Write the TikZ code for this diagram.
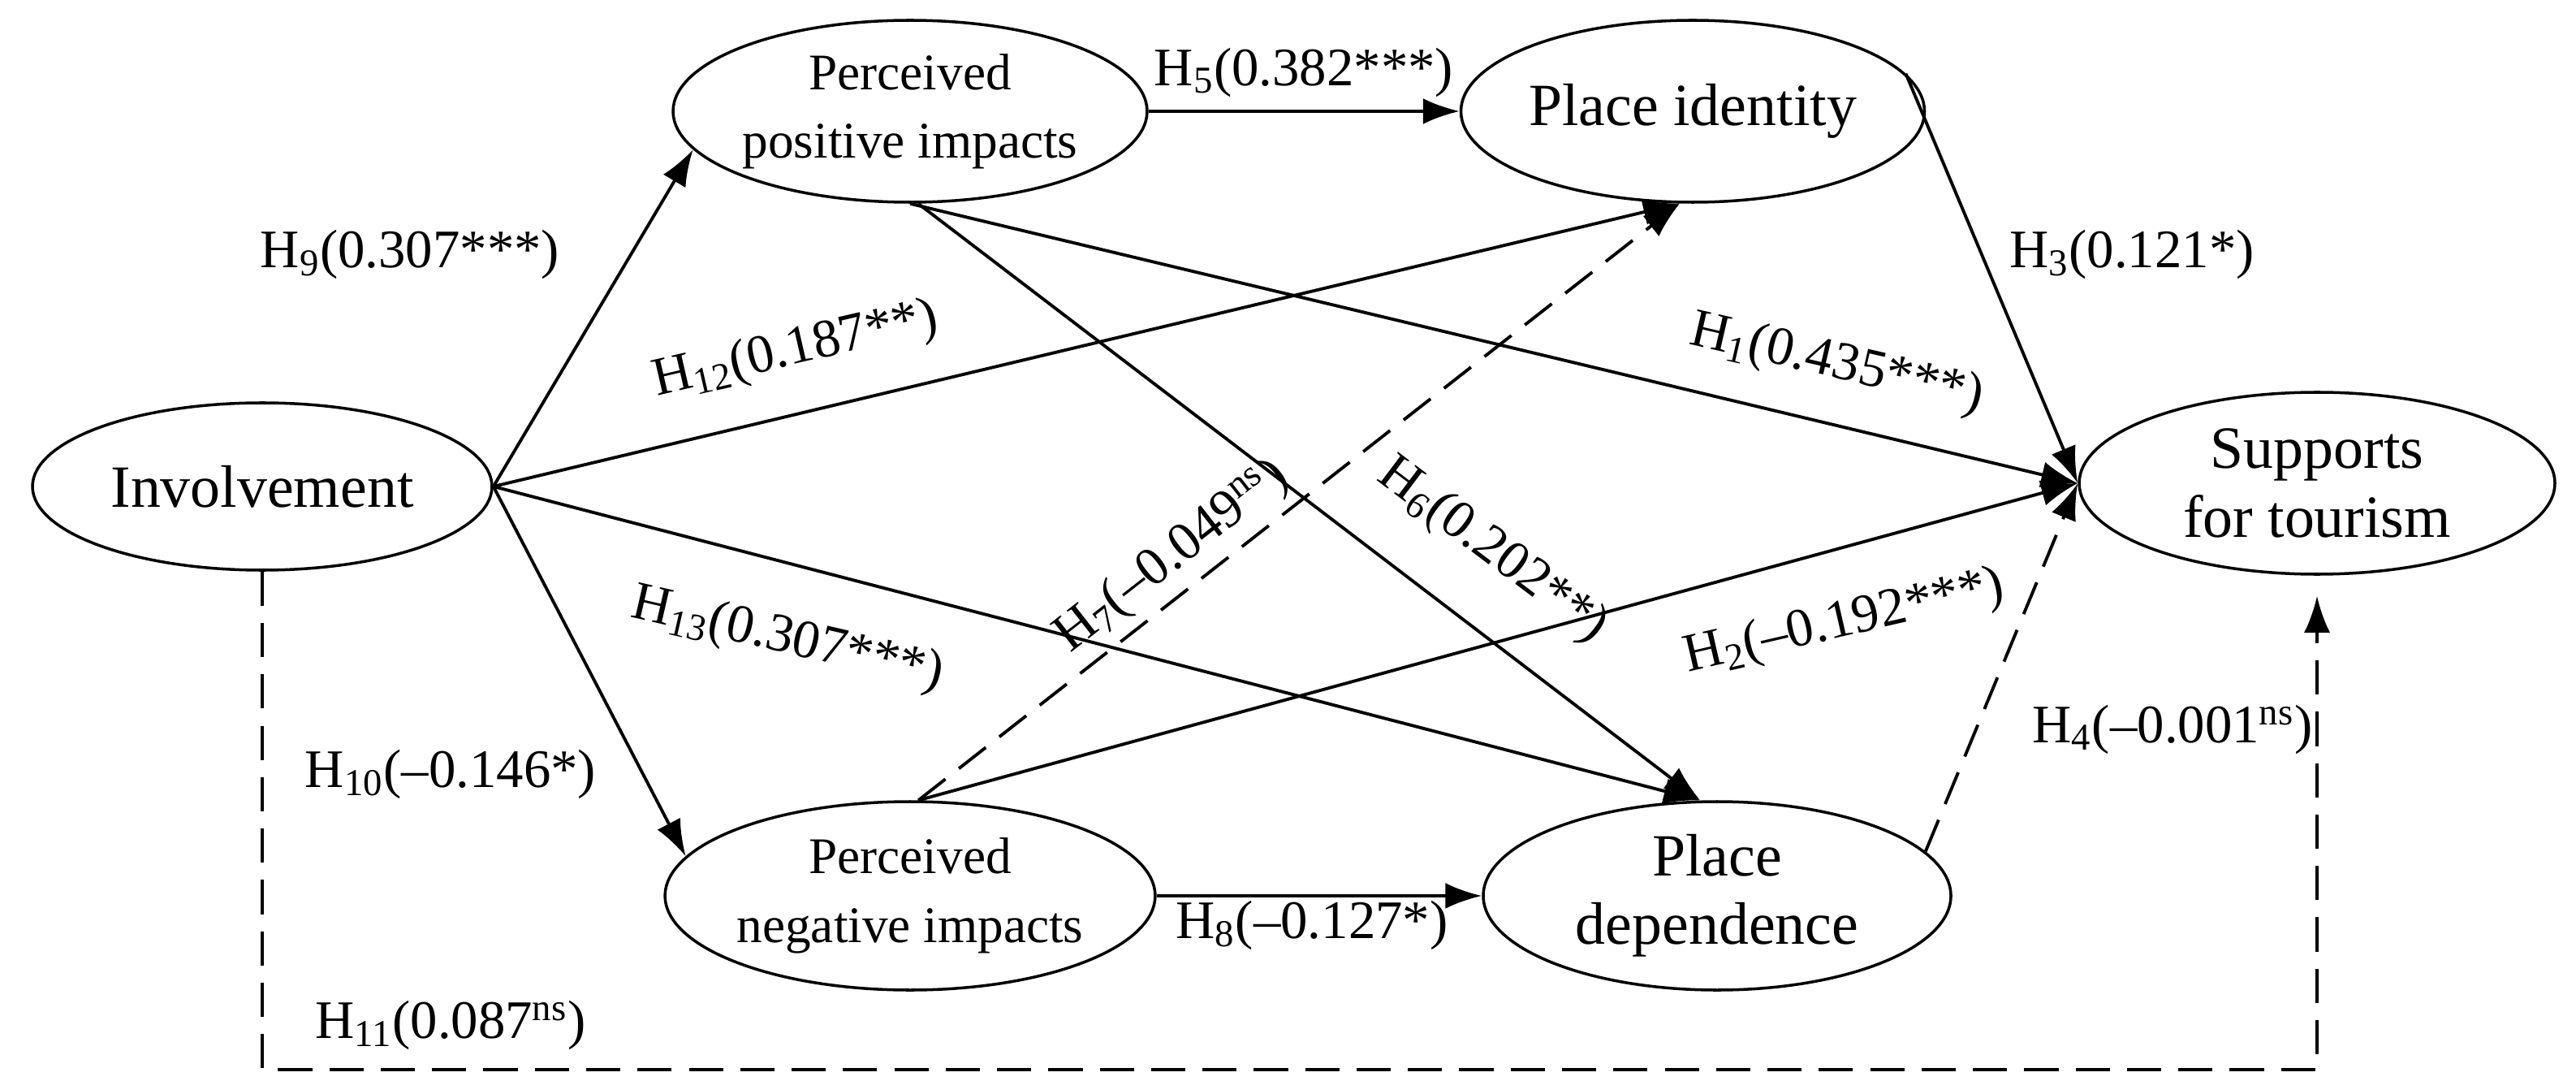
\documentclass[tikz,border=0pt]{standalone}
\usepackage{fontspec}
\setmainfont{Liberation Serif}
\usetikzlibrary{shapes.geometric,arrows.meta}
\begin{document}
\begin{tikzpicture}[
  el/.style={ellipse,draw,line width=1pt,inner sep=0pt,font=\fontsize{21}{24}\selectfont,align=center},
  lab/.style={font=\fontsize{19}{21}\selectfont,inner sep=1pt},
  ar/.style={line width=1.1pt,-{Latex[length=0.45cm,width=0.32cm]}},
  dsh/.style={ar,dash pattern=on 12pt off 6pt}]
\useasboundingbox (0,0) rectangle (31.73,13.30);
\node[el,minimum width=5.66cm,minimum height=2.06cm] (inv) at (3.23,7.31) {Involvement};
\node[el,minimum width=5.66cm,minimum height=2.24cm] (ppi) at (11.21,11.93) {\fontsize{18}{23}\selectfont Perceived\\\fontsize{18}{23}\selectfont positive impacts};
\node[el,minimum width=5.64cm,minimum height=2.24cm] (pi) at (20.85,11.93) {Place identity};
\node[el,minimum width=5.86cm,minimum height=2.24cm] (sup) at (28.54,7.35) {Supports\\for tourism};
\node[el,minimum width=5.66cm,minimum height=2.32cm] (pni) at (11.21,2.27) {\fontsize{18}{23}\selectfont Perceived\\\fontsize{18}{23}\selectfont negative impacts};
\node[el,minimum width=5.76cm,minimum height=2.32cm] (pd) at (21.15,2.27) {Place\\dependence};
\coordinate (bl) at (3.23,0.13);
\draw[ar] (inv.east) -- (ppi.190);
\draw[ar] (inv.east) -- (pni.170);
\draw[ar] (ppi.east) -- (pi.west);
\draw[ar] (pni.east) -- (pd.west);
\draw[ar] (inv.east) -- (pi.262);
\draw[ar] (inv.east) -- (pd.100);
\draw[ar] (ppi.south) -- (sup.west);
\draw[ar] (ppi.275) -- (pd.100);
\draw[ar] (pni.85) -- (sup.west);
\draw[dsh] (pni.85) -- (pi.262);
\draw[ar] (pi.10) -- (sup.west);
\draw[dsh] (pd.12) -- (sup.west);
\draw[dsh,shorten >=0.25cm] (inv.south) -- (bl) -| (sup.south);
\node[lab] (l5) at (16.06,12.41) {H\textsubscript{5}(0.382***)};
\node[lab] (l9) at (5.05,10.17) {H\textsubscript{9}(0.307***)};
\node[lab,rotate=13] (l12) at (9.80,8.98) {H\textsubscript{12}(0.187**)};
\node[lab] (l3) at (26.26,10.17) {H\textsubscript{3}(0.121*)};
\node[lab,rotate=-13] (l1) at (22.62,8.81) {H\textsubscript{1}(0.435***)};
\node[lab,rotate=38] (l7) at (14.44,6.44) {H\textsubscript{7}(–0.049\textsuperscript{ns})};
\node[lab,rotate=-37] (l6) at (18.38,6.52) {H\textsubscript{6}(0.202**)};
\node[lab,rotate=-13] (l13) at (9.70,5.42) {H\textsubscript{13}(0.307***)};
\node[lab,rotate=13] (l2) at (22.72,5.63) {H\textsubscript{2}(–0.192***)};
\node[lab] (l10) at (5.55,3.77) {H\textsubscript{10}(–0.146*)};
\node[lab] (l4) at (26.76,4.32) {H\textsubscript{4}(–0.001\textsuperscript{ns})};
\node[lab] (l8) at (16.16,1.91) {H\textsubscript{8}(–0.127*)};
\node[lab] (l11) at (5.55,0.68) {H\textsubscript{11}(0.087\textsuperscript{ns})};
\end{tikzpicture}
\end{document}
